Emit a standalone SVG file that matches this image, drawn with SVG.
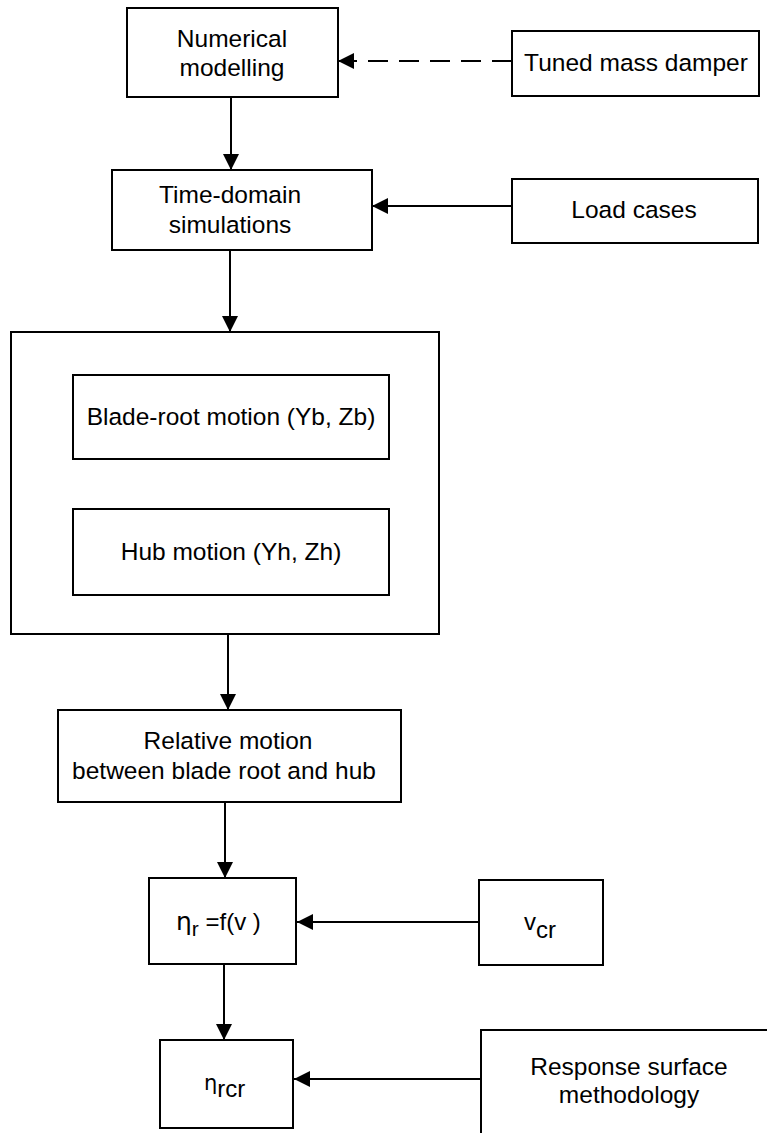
<svg xmlns="http://www.w3.org/2000/svg" width="767" height="1133" viewBox="0 0 767 1133">
<style>
.box{fill:#fff;stroke:#000;stroke-width:2}
.t{font-family:"Liberation Sans",Arial,sans-serif;font-size:24.5px;fill:#000;text-anchor:middle}
.ts{font-family:"Liberation Sans",Arial,sans-serif;font-size:24px;fill:#000}
.eta{font-family:"DejaVu Sans",sans-serif}
.c{fill:none;stroke:#000;stroke-width:2}
.d{stroke-dasharray:20 11}
</style>
<defs>
<marker id="ah" markerUnits="userSpaceOnUse" markerWidth="16" markerHeight="16" refX="16" refY="8" orient="auto">
<path d="M0,0 L16,8 L0,16 z" fill="#000"/>
</marker>
</defs>
<rect width="767" height="1133" fill="#fff"/>
<g id="connectors">
<path class="c d" d="M512,61 L338,61" marker-end="url(#ah)"/>
<path class="c" d="M231,97 L231,170" marker-end="url(#ah)"/>
<path class="c" d="M512,206 L372,206" marker-end="url(#ah)"/>
<path class="c" d="M230,250 L230,332" marker-end="url(#ah)"/>
<path class="c" d="M228,634 L228,710" marker-end="url(#ah)"/>
<path class="c" d="M225,802 L225,878" marker-end="url(#ah)"/>
<path class="c" d="M479,922 L297,922" marker-end="url(#ah)"/>
<path class="c" d="M224,964 L224,1040" marker-end="url(#ah)"/>
<path class="c" d="M481,1079 L294,1079" marker-end="url(#ah)"/>
</g>
<g id="numerical-modelling">
<rect class="box" x="127" y="8" width="211" height="89"/>
<text class="t" x="232" y="47">Numerical</text>
<text class="t" x="232" y="76">modelling</text>
</g>
<g id="tuned-mass-damper">
<rect class="box" x="512" y="31" width="247" height="65"/>
<text class="t" x="636" y="71">Tuned mass damper</text>
</g>
<g id="time-domain">
<rect class="box" x="112" y="170" width="260" height="80"/>
<text class="t" x="230" y="203">Time-domain</text>
<text class="t" x="230" y="233">simulations</text>
</g>
<g id="load-cases">
<rect class="box" x="512" y="179" width="246" height="64"/>
<text class="t" x="634" y="218">Load cases</text>
</g>
<g id="motion-group">
<rect class="box" x="11" y="332" width="428" height="302"/>
</g>
<g id="blade-root">
<rect class="box" x="73" y="375" width="316" height="84"/>
<text class="t" x="231" y="425">Blade-root motion (Yb, Zb)</text>
</g>
<g id="hub-motion">
<rect class="box" x="73" y="509" width="316" height="86"/>
<text class="t" x="231" y="560">Hub motion (Yh, Zh)</text>
</g>
<g id="relative-motion">
<rect class="box" x="58" y="710" width="343" height="92"/>
<text class="t" x="228" y="749">Relative motion</text>
<text class="t" x="224" y="779">between blade root and hub</text>
</g>
<g id="eta-r">
<rect class="box" x="149" y="878" width="147" height="86"/>
<text class="ts" x="176" y="930"><tspan class="eta" font-size="25">η</tspan><tspan font-size="21" dy="6">r</tspan><tspan dy="-6"> =f(v )</tspan></text>
</g>
<g id="v-cr">
<rect class="box" x="479" y="880" width="124" height="85"/>
<text class="ts" x="524" y="930">v<tspan dy="8">cr</tspan></text>
</g>
<g id="eta-rcr">
<rect class="box" x="160" y="1040" width="133" height="88"/>
<text class="ts" x="204" y="1090"><tspan class="eta" font-size="21">η</tspan><tspan dy="7">rcr</tspan></text>
</g>
<g id="response-surface">
<rect class="box" x="481" y="1030" width="320" height="140"/>
<text class="t" x="629" y="1075">Response surface</text>
<text class="t" x="629" y="1103">methodology</text>
</g>
</svg>
